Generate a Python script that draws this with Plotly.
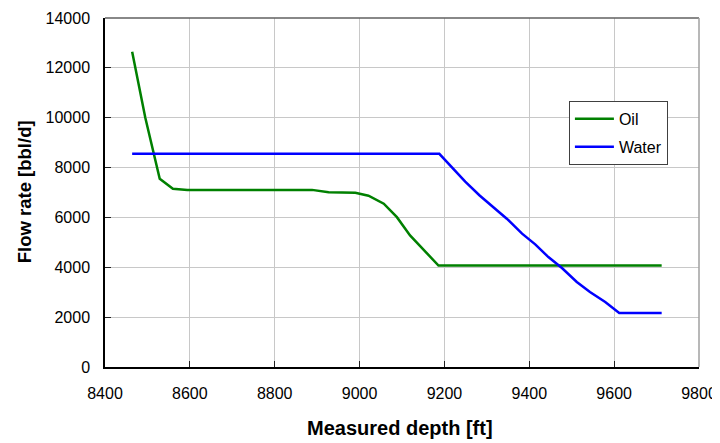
import plotly.graph_objects as go

oil_depth = [8464, 8495, 8529, 8560, 8594, 8888, 8927, 8959, 8990, 9021, 9057, 9088, 9119, 9186, 9712]
oil_rate = [12650, 10000, 7550, 7150, 7100, 7105, 7010, 6990, 6990, 6870, 6550, 6010, 5280, 4070, 4070]

water_depth = [8464, 9188, 9249, 9283, 9347, 9383, 9414, 9445, 9477, 9512, 9543, 9579, 9612, 9712]
water_rate = [8550, 8550, 7440, 6880, 5950, 5350, 4920, 4410, 3970, 3410, 3010, 2610, 2170, 2170]

x_title = "Measured depth [ft]"
y_title = "Flow rate [bbl/d]"

fig = go.Figure()
fig.add_trace(go.Scatter(x=oil_depth, y=oil_rate, mode="lines", name="Oil",
                         legendgroup="oil",
                         line=dict(color="#008000", width=2.5)))
fig.add_trace(go.Scatter(x=water_depth, y=water_rate, mode="lines", name="Water",
                         legendgroup="water",
                         line=dict(color="#0000ff", width=2.5)))

font_family = "Liberation Sans, Arial, sans-serif"

fig.update_layout(
    width=712, height=435,
    margin=dict(l=96.5, r=21, t=9.5, b=75.5),
    plot_bgcolor="white", paper_bgcolor="white",
    font=dict(family=font_family, size=16, color="black"),
    showlegend=True,
    legend=dict(x=0.781, y=0.7623, xanchor="left", yanchor="top",
                bgcolor="white", bordercolor="#404040", borderwidth=1,
                font=dict(size=16, family=font_family),
                itemwidth=39,
                tracegroupgap=4),
    xaxis=dict(range=[8400, 9800], dtick=200, tick0=8400, tickformat="d",
               automargin=False,
               showgrid=True, gridcolor="#c8c8c8", gridwidth=1,
               showline=True, linecolor="black", linewidth=1.5, mirror=False,
               ticks="inside", ticklen=6, tickcolor="#202020",
               ticklabelstandoff=11, tickfont=dict(size=16),
               zeroline=False),
    yaxis=dict(range=[0, 14000], dtick=2000, tick0=0, tickformat="d",
               automargin=False,
               showgrid=True, gridcolor="#c8c8c8", gridwidth=1,
               showline=True, linecolor="black", linewidth=1.5, mirror=False,
               ticks="inside", ticklen=6, tickcolor="#202020",
               ticklabelstandoff=10, tickfont=dict(size=16),
               zeroline=False),
    annotations=[
        dict(text="<b>" + x_title + "</b>", xref="paper", yref="paper",
             x=0.497, y=-0.175, xanchor="center", yanchor="middle",
             showarrow=False, font=dict(size=20, family=font_family)),
        dict(text="<b>" + y_title + "</b>", xref="paper", yref="paper",
             x=-0.1362, y=0.501, xanchor="center", yanchor="middle",
             textangle=-90, showarrow=False, font=dict(size=18.5, family=font_family)),
    ],
    shapes=[
        dict(type="line", xref="paper", yref="paper", x0=0, x1=1, y0=1, y1=1,
             line=dict(color="#606060", width=1.5)),
        dict(type="line", xref="paper", yref="paper", x0=1, x1=1, y0=0, y1=1,
             line=dict(color="#a0a0a0", width=1.5)),
    ],
)

fig.write_html("out.html")
